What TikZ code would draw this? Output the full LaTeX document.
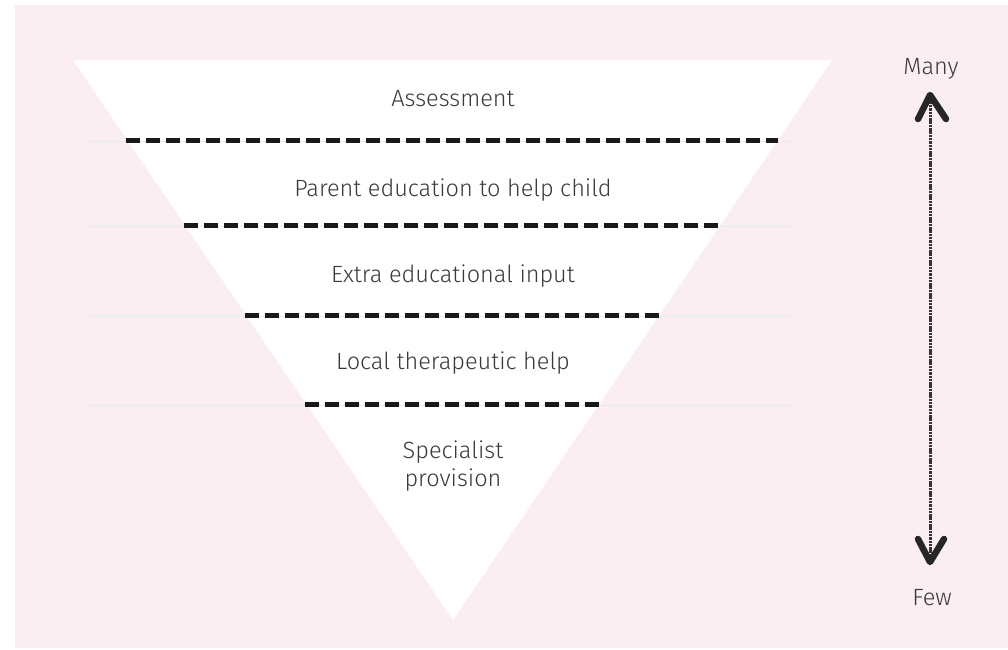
\documentclass[tikz,border=0pt]{standalone}
\usepackage{fontspec}
\setmainfont{Fira Sans Light}
\usetikzlibrary{calc}
\definecolor{bgpink}{RGB}{251,238,242}
\definecolor{guide}{RGB}{226,236,244}
\definecolor{txt}{RGB}{58,58,58}
\begin{document}
\begin{tikzpicture}[x=1pt,y=-1pt,
 lbl/.style={font=\fontsize{23.5}{28}\selectfont, text=txt, align=center, inner sep=0pt},
 marker/.style={line width=5pt, dash pattern=on 14pt off 6pt, black!90},
 guideline/.style={guide, line width=1pt},
 chalk/.style={line width=3pt, black!80, dash pattern=on 2.5pt off 0.8pt},
 chalkhead/.style={line width=6.5pt, black!85, line cap=round, line join=round}]
\useasboundingbox (0,0) rectangle (1008,649);
\fill[white] (0,0) rectangle (1008,649);
\fill[bgpink] (15,5) rectangle (1008,648);
\coordinate (TL) at (73,60);
\coordinate (TR) at (832,60);
\coordinate (B) at (453,620);
\fill[white] (TL) -- (TR) -- (B) -- cycle;
% guide lines
\foreach \yy in {141,226,316,405} {
  \draw[guideline] (89,\yy) -- (793,\yy);
}
% dashed separators
\foreach \f/\n in {0.1446/a,0.2964/b,0.457/c,0.616/d} {
  \coordinate (L\n) at ($(TL)!\f!(B)$);
  \coordinate (R\n) at ($(TR)!\f!(B)$);
  \draw[marker] ($(L\n)+(-2,0)$) -- ($(R\n)+(1,0)$);
}
% labels
\node[lbl] (t1) at (453,99) {Assessment};
\node[lbl] (t2) at (453,190) {Parent education to help child};
\node[lbl] (t3) at (453,276) {Extra educational input};
\node[lbl] (t4) at (453,363) {Local therapeutic help};
\node[lbl] (t5) at (453,466) {Specialist\\provision};
\node[lbl] (many) at (931,69) {Many};
\node[lbl] (few) at (932,598) {Few};
% arrow
\coordinate (Atop) at (930,95);
\coordinate (Abot) at (930,562);
\draw[chalk] (Atop) -- (Abot);
\draw[chalkhead] (918,119) -- (Atop) -- (946,119);
\draw[chalkhead] (918,539) -- (Abot) -- (944,539);
\end{tikzpicture}
\end{document}
